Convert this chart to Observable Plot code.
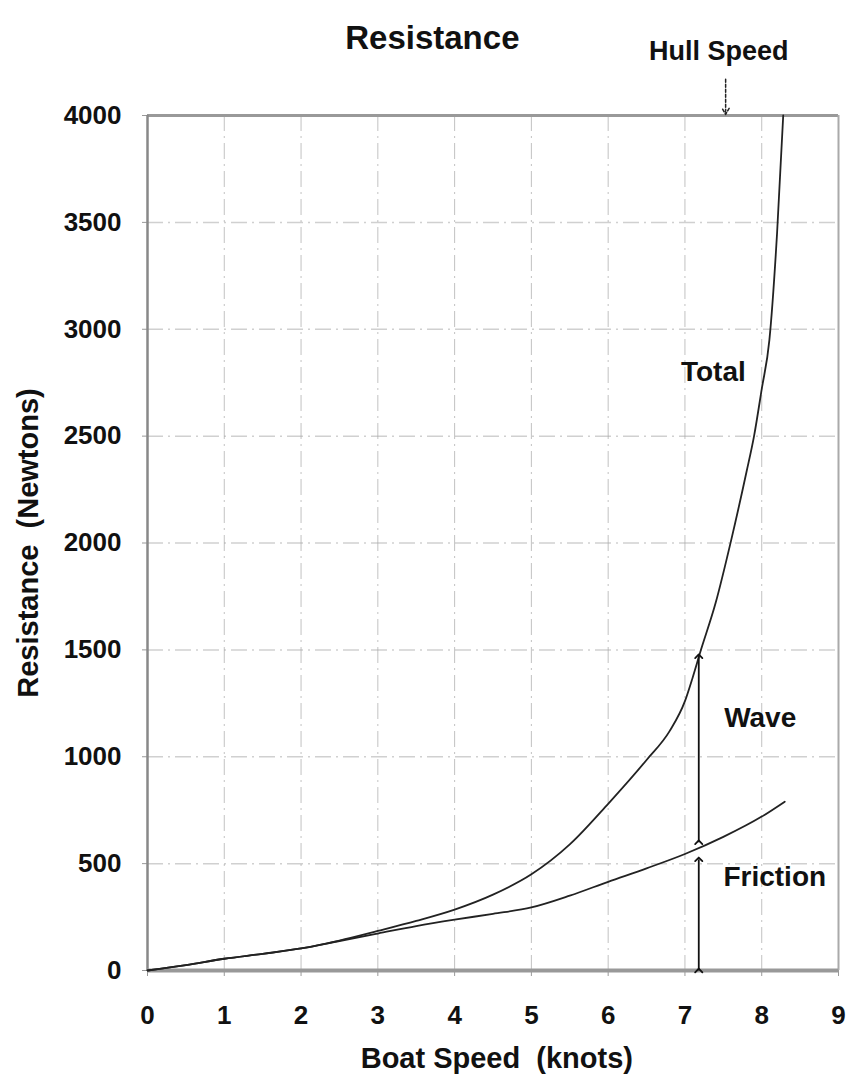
<!DOCTYPE html>
<html>
<head>
<meta charset="utf-8">
<script src="https://cdn.jsdelivr.net/npm/d3@7"></script>
<script src="https://cdn.jsdelivr.net/npm/@observablehq/plot@0.6"></script>
<style>
  html, body { margin: 0; padding: 0; background: #fff; }
  svg text { font-family: "Liberation Sans", Arial, sans-serif; font-weight: bold; }
</style>
</head>
<body>
<div id="chart"></div>
<script>
// Data
const totalSpeed = [0, 0.5, 1, 1.5, 2, 2.5, 3, 3.5, 4, 4.5, 5, 5.5, 6, 6.5, 6.8, 7, 7.1, 7.2, 7.4, 7.6, 7.8, 7.9, 8.0, 8.1, 8.2, 8.28];
const totalRes   = [0, 25, 55, 78, 103, 140, 185, 232, 285, 355, 450, 590, 780, 985, 1120, 1260, 1370, 1490, 1720, 2010, 2330, 2500, 2720, 2950, 3450, 4000];
const frictionSpeed = [0, 0.5, 1, 1.5, 2, 2.5, 3, 3.5, 4, 4.5, 5, 5.5, 6, 6.5, 7, 7.5, 8, 8.3];
const frictionRes   = [0, 25, 55, 78, 103, 138, 173, 208, 238, 265, 295, 350, 415, 478, 545, 625, 720, 790];

const xTicks = [0, 1, 2, 3, 4, 5, 6, 7, 8, 9];
const yTicks = [0, 500, 1000, 1500, 2000, 2500, 3000, 3500, 4000];

// Annotations
const hullSpeed = 7.53;
const arrowSpeed = 7.18;
const waveArrow = {x: arrowSpeed, y1: 600, y2: 1470};
const frictionArrow = {x: arrowSpeed, y1: 0, y2: 520};
const curveLabels = [
  {x: 7.37, y: 2798, text: "Total"},
  {x: 7.98, y: 1179, text: "Wave"},
  {x: 8.17, y: 435, text: "Friction"}
];

const totalData = totalSpeed.map((s, i) => ({s, r: totalRes[i]}));
const frictionData = frictionSpeed.map((s, i) => ({s, r: frictionRes[i]}));

const chart = Plot.plot({
  width: 848,
  height: 1082,
  marginLeft: 147,
  marginRight: 10,
  marginTop: 115,
  marginBottom: 112,
  style: {fontFamily: "Liberation Sans, Arial, sans-serif", fontWeight: "bold", background: "#fff"},
  x: {domain: [0, 9], ticks: xTicks, label: null},
  y: {domain: [0, 4000], ticks: yTicks, label: null},
  marks: [
    Plot.gridX(xTicks, {stroke: "#999", strokeOpacity: 0.6, strokeWidth: 1, strokeDasharray: "16,5,2,5"}),
    Plot.gridY(yTicks, {stroke: "#aaa", strokeOpacity: 0.55, strokeWidth: 1.5, strokeDasharray: "16,5,2,5"}),
    Plot.axisX({ticks: xTicks, tickSize: 6, tickPadding: 29, fontSize: 26, fontWeight: "bold", stroke: "#999", fill: "#111", label: null, tickFormat: d3.format("d")}),
    Plot.axisY({ticks: yTicks, tickSize: 5, tickPadding: 21, fontSize: 26, fontWeight: "bold", stroke: "#999", fill: "#111", label: null, tickFormat: d3.format("d")}),
    Plot.ruleY([4000], {stroke: "#999", strokeWidth: 3}),
    Plot.ruleX([9], {stroke: "#aaa", strokeWidth: 2}),
    Plot.ruleX([0], {stroke: "#888", strokeWidth: 2.5}),
    Plot.ruleY([0], {stroke: "#999", strokeWidth: 4}),
    Plot.line(frictionData, {x: "s", y: "r", stroke: "#222", strokeWidth: 1.8, curve: "monotone-x"}),
    Plot.line(totalData, {x: "s", y: "r", stroke: "#222", strokeWidth: 1.8, curve: "monotone-x"}),
    Plot.link([waveArrow, frictionArrow], {x1: "x", x2: "x", y1: "y1", y2: "y2", stroke: "#111", strokeWidth: 1.8, markerStart: "arrow", markerEnd: "arrow"}),
    Plot.arrow([{x: hullSpeed, y1: 4170, y2: 4005}], {x1: "x", x2: "x", y1: "y1", y2: "y2", stroke: "#222", strokeWidth: 1.5, headLength: 7, strokeDasharray: "3,2"}),
    Plot.text(curveLabels, {x: "x", y: "y", text: "text", fontSize: 28, fontWeight: "bold", fill: "#111"}),
    Plot.text(["Resistance"], {x: 3.71, frameAnchor: "top", dy: -90, fontSize: 33, fontWeight: "bold", fill: "#111"}),
    Plot.text(["Hull Speed"], {x: 7.44, frameAnchor: "top", dy: -75, fontSize: 27, fontWeight: "bold", fill: "#111"}),
    Plot.text(["Boat Speed  (knots)"], {x: 4.55, frameAnchor: "bottom", dy: 97, fontSize: 29, fontWeight: "bold", fill: "#111"}),
    Plot.text(["Resistance  (Newtons)"], {frameAnchor: "left", dx: -119, rotate: -90, textAnchor: "middle", fontSize: 29, fontWeight: "bold", fill: "#111"})
  ]
});
document.getElementById("chart").appendChild(chart);
</script>
</body>
</html>
